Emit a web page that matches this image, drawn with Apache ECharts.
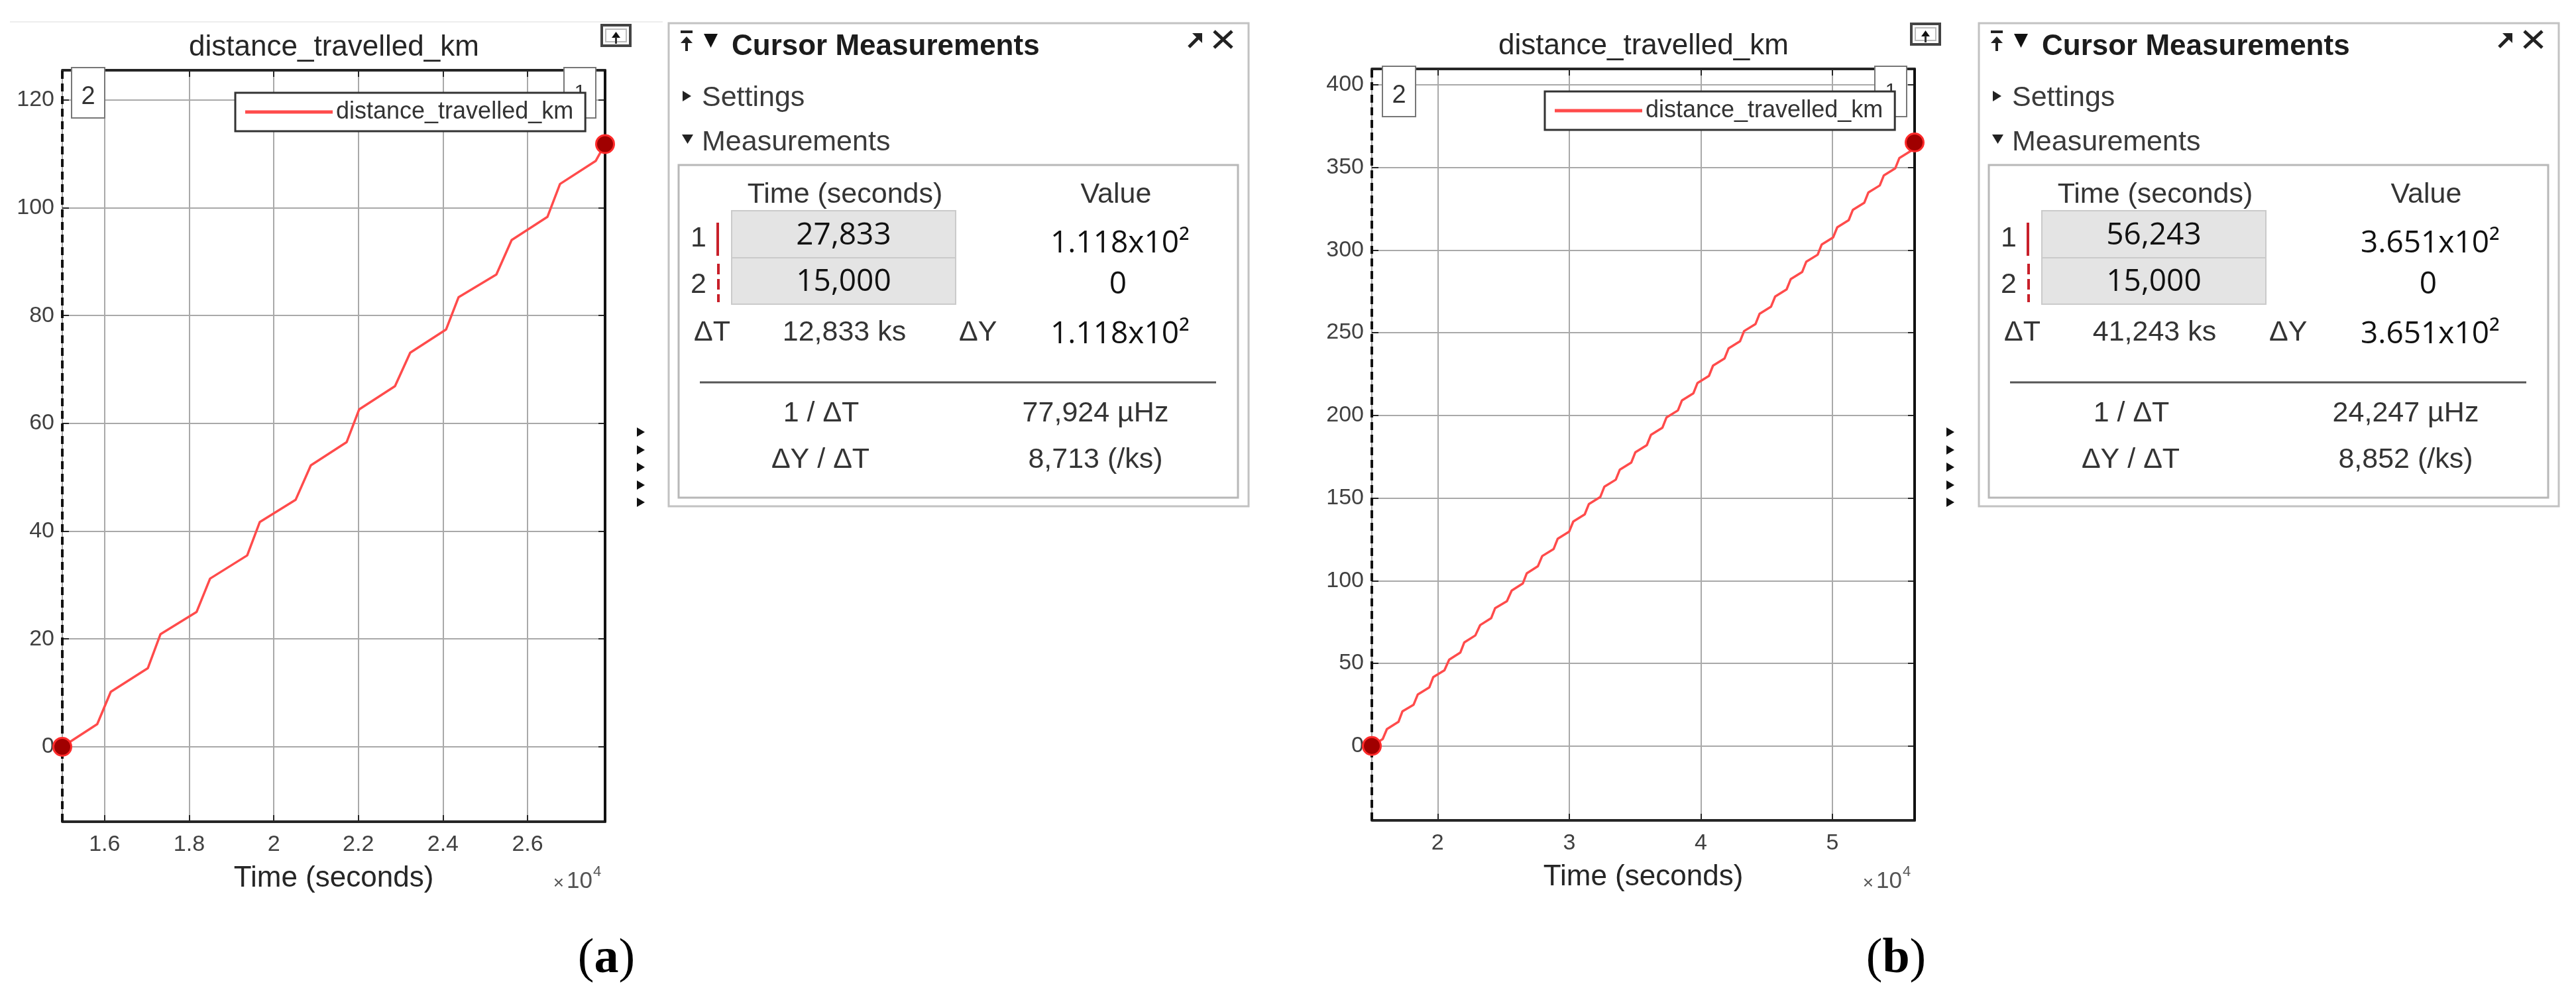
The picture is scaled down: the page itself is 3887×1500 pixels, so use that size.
<!DOCTYPE html>
<html><head><meta charset="utf-8">
<script src="https://cdn.jsdelivr.net/npm/echarts@6.0.0/dist/echarts.min.js"></script>
<style>html,body{margin:0;padding:0;background:#fff}#c{width:3887px;height:1500px}</style>
</head><body><div id="c"></div>
<script>
// ---------------- data ----------------
const seriesName = 'distance_travelled_km';
const axisTitle = 'Time (seconds)';

// (a) distance vs time
const timeA = [15000, 15826, 16146, 17024, 17322, 18174, 18494, 19372, 19670, 20516, 20876, 21722, 22020, 22866, 23226, 24073, 24370, 25263, 25624, 26470, 26768, 27614, 27833];
const distA = [0, 4.2, 10.2, 14.6, 20.9, 25.0, 31.2, 35.5, 41.7, 45.8, 52.2, 56.5, 62.6, 66.9, 73.1, 77.4, 83.4, 87.6, 94.0, 98.3, 104.4, 108.7, 111.8];

// (b) distance vs time
const timeB = [15000, 15826, 16146, 17024, 17322, 18174, 18494, 19372, 19670, 20516, 20876, 21722, 22020, 22866, 23226, 24073, 24370, 25263, 25624, 26470, 26768, 27614,
  27946, 28816, 29126, 29996, 30306, 31176, 31486, 32356, 32666, 33536, 33846, 34716, 35026, 35896, 36206, 37076, 37386, 38256, 38566, 39436,
  39746, 40616, 40926, 41796, 42106, 42976, 43286, 44156, 44466, 45336, 45646, 46516, 46826, 47696, 48006, 48876, 49186, 50056, 50366, 51236,
  51546, 52416, 52726, 53596, 53906, 54776, 55086, 55956, 56243];
const distB = [0, 4.2, 10.2, 14.6, 20.9, 25.0, 31.2, 35.5, 41.7, 45.8, 52.2, 56.5, 62.6, 66.9, 73.1, 77.4, 83.4, 87.6, 94.0, 98.3, 104.4, 108.7,
  114.9, 119.2, 125.4, 129.7, 135.8, 140.1, 146.3, 150.6, 156.8, 161.1, 167.2, 171.5, 177.7, 182.0, 188.2, 192.5, 198.7, 203.0, 209.1, 213.4,
  219.6, 223.9, 230.1, 234.4, 240.5, 244.8, 251.0, 255.3, 261.5, 265.8, 271.9, 276.2, 282.4, 286.7, 292.9, 297.2, 303.4, 307.7, 313.8, 318.1,
  324.3, 328.6, 334.8, 339.1, 345.2, 349.5, 355.7, 360.0, 365.1];

// cursors: [cursor 1, cursor 2]
const cursorTimeA = [27833, 15000];
const cursorValueA = [111.8, 0];
const cursorTimeB = [56243, 15000];
const cursorValueB = [365.1, 0];

// axis ranges
const xRangeA = [15000, 27833];
const yRangeA = [-13.9, 125.5];
const xRangeB = [15000, 56243];
const yRangeB = [-45, 409.6];

// tick labels
const xTickValA = [16000, 18000, 20000, 22000, 24000, 26000];
const xTickLabA = ['1.6', '1.8', '2', '2.2', '2.4', '2.6'];
const yTickValA = [0, 20, 40, 60, 80, 100, 120];
const yTickLabA = ['0', '20', '40', '60', '80', '100', '120'];
const xTickValB = [20000, 30000, 40000, 50000];
const xTickLabB = ['2', '3', '4', '5'];
const yTickValB = [0, 50, 100, 150, 200, 250, 300, 350, 400];
const yTickLabB = ['0', '50', '100', '150', '200', '250', '300', '350', '400'];
const xExponentBase = ['×', '10'];
const xExponentPow = '4';

// cursor measurement panel texts
const panelLabels = ['Cursor Measurements', 'Settings', 'Measurements', 'Time (seconds)', 'Value', 'ΔT', 'ΔY', '1 / ΔT', 'ΔY / ΔT'];
const panelA = ['27,833', '15,000', '1.118x10²', '0', '12,833 ks', '1.118x10²', '77,924 µHz', '8,713 (/ks)'];
const panelB = ['56,243', '15,000', '3.651x10²', '0', '41,243 ks', '3.651x10²', '24,247 µHz', '8,852 (/ks)'];
const panelTags = ['(a)', '(b)'];

// ---------------- helpers ----------------
const SANS = 'Liberation Sans, Arial, sans-serif';
const NUMF = 'Open Sans, Noto Sans, sans-serif';
const AX = '#262626';
const GRID = '#a9a9a9';

function labFmt(vals, labs) {
  return function (v) { const i = vals.indexOf(v); return i >= 0 ? labs[i] : ''; };
}
function xAxes(gi, range, split, vals, labs) {
  const tick = {show: true, inside: true, length: 10, lineStyle: {color: AX, width: 2}};
  return [{
    type: 'value', gridIndex: gi, min: range[0], max: range[1], splitNumber: split, position: 'bottom',
    axisLine: {show: true, onZero: false, lineStyle: {color: AX, width: 4}},
    axisTick: tick,
    axisLabel: {margin: 18, fontSize: 34, color: '#404040', fontFamily: SANS, formatter: labFmt(vals, labs)},
    splitLine: {show: true, lineStyle: {color: GRID, width: 2}},
    name: axisTitle, nameLocation: 'middle', nameGap: 64,
    nameTextStyle: {fontSize: 44, color: AX, fontFamily: SANS}
  }, {
    type: 'value', gridIndex: gi, min: range[0], max: range[1], splitNumber: split, position: 'top',
    axisLine: {show: true, onZero: false, lineStyle: {color: AX, width: 4}},
    axisTick: tick, axisLabel: {show: false}, splitLine: {show: false}
  }];
}
function yAxes(gi, range, split, vals, labs) {
  const tick = {show: true, inside: true, length: 10, lineStyle: {color: AX, width: 2}};
  return [{
    type: 'value', gridIndex: gi, min: range[0], max: range[1], splitNumber: split, position: 'left',
    axisLine: {show: false, onZero: false},
    axisTick: tick,
    axisLabel: {margin: 12, fontSize: 34, color: '#404040', fontFamily: SANS, formatter: labFmt(vals, labs)},
    splitLine: {show: true, lineStyle: {color: GRID, width: 2}}
  }, {
    type: 'value', gridIndex: gi, min: range[0], max: range[1], splitNumber: split, position: 'right',
    axisLine: {show: true, onZero: false, lineStyle: {color: '#111', width: 4}},
    axisTick: tick, axisLabel: {show: false}, splitLine: {show: false}
  }];
}
function lineSeries(xi, yi, ts, ds, cts) {
  return {
    type: 'line', name: seriesName, xAxisIndex: xi, yAxisIndex: yi,
    data: ts.map((t, i) => [t, ds[i]]), symbol: 'none', showSymbol: false,
    lineStyle: {color: '#ff4b4b', width: 3.5}, itemStyle: {color: '#ff4b4b'}, z: 3,
    markLine: {
      silent: true, symbol: ['none', 'none'], label: {show: false}, animation: false,
      data: [
        {xAxis: cts[0], lineStyle: {type: 'solid', color: '#111', width: 4}},
        {xAxis: cts[1], lineStyle: {type: [12, 7], color: '#111', width: 4}}
      ]
    }
  };
}
function cursorSeries(xi, yi, cts, cvs) {
  return {
    type: 'scatter', name: 'cursor', xAxisIndex: xi, yAxisIndex: yi, clip: false, z: 6,
    data: cts.map((t, i) => [t, cvs[i]]), symbolSize: 27,
    itemStyle: {color: '#a00000', borderColor: '#ff2b2b', borderWidth: 3, opacity: 1}
  };
}
function legendCfg(left, top) {
  return {
    data: [seriesName], left: left, top: top, orient: 'horizontal',
    padding: [11, 18, 11, 15], itemWidth: 132, itemHeight: 5, itemGap: 10, itemTextGap: 12,
    icon: 'rect', backgroundColor: '#fff', borderColor: '#333', borderWidth: 3, borderRadius: 0,
    textStyle: {fontSize: 36, color: '#333', fontFamily: SANS}, selectedMode: false, z: 6
  };
}
function txt(x, y, text, font, fill, align, extra) {
  return Object.assign({type: 'text', x: x, y: y, z: 10,
    style: {text: text, font: font, fill: fill, textAlign: align || 'left', textVerticalAlign: 'middle'}}, extra || {});
}
function panel(x0, vals) {
  const E = [];
  const A43 = '43px ' + SANS, N46 = '46px ' + NUMF, gray = '#343434';
  E.push({type: 'rect', z: 8, shape: {x: x0, y: 35, width: 875, height: 729}, style: {fill: '#fff', stroke: '#c2c2c2', lineWidth: 3}});
  // pin icon
  E.push({type: 'line', z: 10, shape: {x1: x0 + 18, y1: 48, x2: x0 + 36, y2: 48}, style: {stroke: '#222', lineWidth: 4}});
  E.push({type: 'polygon', z: 10, shape: {points: [[x0 + 18, 65], [x0 + 36, 65], [x0 + 27, 55]]}, style: {fill: '#222'}});
  E.push({type: 'line', z: 10, shape: {x1: x0 + 27, y1: 62, x2: x0 + 27, y2: 77}, style: {stroke: '#222', lineWidth: 4}});
  // collapse triangle
  E.push({type: 'polygon', z: 10, shape: {points: [[x0 + 53, 51], [x0 + 74, 51], [x0 + 63.5, 72]]}, style: {fill: '#111'}});
  E.push(txt(x0 + 95, 71, panelLabels[0], 'bold 44px ' + SANS, '#1c1c1c'));
  // undock arrow and close
  E.push({type: 'line', z: 10, shape: {x1: x0 + 785, y1: 71, x2: x0 + 800, y2: 56}, style: {stroke: '#222', lineWidth: 5}});
  E.push({type: 'polygon', z: 10, shape: {points: [[x0 + 790, 50], [x0 + 805, 50], [x0 + 805, 65]]}, style: {fill: '#222'}});
  E.push({type: 'line', z: 10, shape: {x1: x0 + 823, y1: 47, x2: x0 + 850, y2: 72}, style: {stroke: '#222', lineWidth: 5}});
  E.push({type: 'line', z: 10, shape: {x1: x0 + 850, y1: 47, x2: x0 + 823, y2: 72}, style: {stroke: '#222', lineWidth: 5}});
  // Settings / Measurements
  E.push({type: 'polygon', z: 10, shape: {points: [[x0 + 21, 137], [x0 + 21, 153], [x0 + 34, 145]]}, style: {fill: '#222'}});
  E.push(txt(x0 + 50, 148, panelLabels[1], A43, '#3a3a3a'));
  E.push({type: 'polygon', z: 10, shape: {points: [[x0 + 20, 203], [x0 + 37, 203], [x0 + 28.5, 217]]}, style: {fill: '#222'}});
  E.push(txt(x0 + 50, 215, panelLabels[2], A43, '#3a3a3a'));
  // inner box
  E.push({type: 'rect', z: 9, shape: {x: x0 + 15, y: 249, width: 844, height: 502}, style: {fill: '#fff', stroke: '#b8b8b8', lineWidth: 3}});
  E.push(txt(x0 + 266, 294, panelLabels[3], A43, gray, 'center'));
  E.push(txt(x0 + 675, 294, panelLabels[4], A43, gray, 'center'));
  // cells
  E.push({type: 'rect', z: 9, shape: {x: x0 + 95, y: 318, width: 338, height: 71}, style: {fill: '#e4e4e4', stroke: '#cacaca', lineWidth: 2}});
  E.push({type: 'rect', z: 9, shape: {x: x0 + 95, y: 389, width: 338, height: 70}, style: {fill: '#e4e4e4', stroke: '#cacaca', lineWidth: 2}});
  E.push(txt(x0 + 45, 360, '1', A43, gray, 'center'));
  E.push(txt(x0 + 45, 430, '2', A43, gray, 'center'));
  E.push({type: 'rect', z: 10, shape: {x: x0 + 72, y: 336, width: 4, height: 50}, style: {fill: '#c8202a'}});
  E.push({type: 'line', z: 10, shape: {x1: x0 + 75, y1: 398, x2: x0 + 75, y2: 456}, style: {stroke: '#c8202a', lineWidth: 4, lineDash: [16, 7]}});
  E.push(txt(x0 + 264, 356, vals[0], N46, '#111', 'center'));
  E.push(txt(x0 + 264, 426, vals[1], N46, '#111', 'center'));
  E.push(txt(x0 + 681, 368, vals[2], N46, '#111', 'center'));
  E.push(txt(x0 + 678, 430, vals[3], N46, '#111', 'center'));
  E.push(txt(x0 + 38, 502, panelLabels[5], A43, gray));
  E.push(txt(x0 + 265, 502, vals[4], A43, gray, 'center'));
  E.push(txt(x0 + 438, 502, panelLabels[6], A43, gray));
  E.push(txt(x0 + 681, 505, vals[5], N46, '#111', 'center'));
  E.push({type: 'line', z: 10, shape: {x1: x0 + 47, y1: 577, x2: x0 + 826, y2: 577}, style: {stroke: '#555', lineWidth: 3}});
  E.push(txt(x0 + 230, 624, panelLabels[7], A43, gray, 'center'));
  E.push(txt(x0 + 644, 624, vals[6], A43, gray, 'center'));
  E.push(txt(x0 + 229, 694, panelLabels[8], A43, gray, 'center'));
  E.push(txt(x0 + 644, 694, vals[7], A43, gray, 'center'));
  return E;
}
function chartDecor(px, pr, shiftTop, box2x, box1x) {
  const E = [];
  // cursor label boxes
  E.push({type: 'rect', z: 3, shape: {x: box2x, y: 102 - shiftTop, width: 50, height: 76}, style: {fill: '#fff', stroke: '#777', lineWidth: 2}});
  E.push(txt(box2x + 25, 147 - shiftTop, '2', '38px ' + SANS, '#333', 'center', {z: 4}));
  E.push({type: 'rect', z: 3, shape: {x: box1x, y: 102 - shiftTop, width: 48, height: 76}, style: {fill: '#fff', stroke: '#777', lineWidth: 2}});
  E.push(txt(box1x + 24, 140 - shiftTop, '1', '30px ' + SANS, '#333', 'center', {z: 4}));
  // top-right button
  E.push({type: 'rect', z: 3, shape: {x: pr - 5, y: 38 - shiftTop, width: 43, height: 31}, style: {fill: '#fff', stroke: '#444', lineWidth: 4}});
  E.push({type: 'rect', z: 3, shape: {x: pr + 1, y: 44 - shiftTop, width: 31, height: 19}, style: {fill: '#fff', stroke: '#bbb', lineWidth: 2}});
  E.push({type: 'polygon', z: 4, shape: {points: [[pr + 10, 57 - shiftTop], [pr + 23, 57 - shiftTop], [pr + 16.5, 48 - shiftTop]]}, style: {fill: '#111'}});
  E.push({type: 'line', z: 4, shape: {x1: pr + 16.5, y1: 56 - shiftTop, x2: pr + 16.5, y2: 66 - shiftTop}, style: {stroke: '#333', lineWidth: 3}});
  // side triangles
  [652, 679, 705, 732, 758].forEach(function (yy) {
    E.push({type: 'polygon', z: 3, shape: {points: [[pr + 48, yy - 7], [pr + 48, yy + 7], [pr + 60, yy]]}, style: {fill: '#111'}});
  });
  // exponent  x10^4
  E.push(txt(pr - 62, 1333, xExponentBase[0], '28px ' + SANS, '#555', 'right'));
  E.push(txt(pr - 19, 1330, xExponentBase[1], '35px ' + SANS, '#555', 'right'));
  E.push(txt(pr - 18, 1316, xExponentPow, '22px ' + SANS, '#555', 'left'));
  return E;
}
function tag(x, s) {
  const inner = s.slice(1, -1);
  return {type: 'text', x: x, y: 1448, z: 10, style: {
    text: '{p|(}{b|' + inner + '}{p|)}', textAlign: 'center', textVerticalAlign: 'middle',
    rich: {p: {font: '74px Liberation Serif, serif', fill: '#000'}, b: {font: 'bold 74px Liberation Serif, serif', fill: '#000'}}
  }};
}

// ---------------- chart ----------------
const chart = echarts.init(document.getElementById('c'), null, {renderer: 'canvas', width: 3887, height: 1500});
const graphics = [].concat(
  [{type: 'line', z: 1, shape: {x1: 15, y1: 33, x2: 1000, y2: 33}, style: {stroke: '#ededed', lineWidth: 2}}],
  chartDecor(94, 913, 0, 108, 851),
  chartDecor(2070, 2889, 2, 2086, 2829),
  panel(1009, panelA),
  panel(2986, panelB),
  [tag(915, panelTags[0]), tag(2861, panelTags[1])]
);
const option = {
  animation: false,
  backgroundColor: '#fff',
  title: [
    {text: seriesName, left: 504, top: 50, textAlign: 'center', padding: 0, textStyle: {fontSize: 44, fontWeight: 'normal', color: AX, fontFamily: SANS}},
    {text: seriesName, left: 2480, top: 48, textAlign: 'center', padding: 0, textStyle: {fontSize: 44, fontWeight: 'normal', color: AX, fontFamily: SANS}}
  ],
  legend: [legendCfg(355, 140), legendCfg(2331, 138)],
  grid: [
    {left: 94, top: 106, width: 819, height: 1134, containLabel: false},
    {left: 2070, top: 104, width: 819, height: 1134, containLabel: false}
  ],
  xAxis: [].concat(xAxes(0, xRangeA, 6, xTickValA, xTickLabA), xAxes(1, xRangeB, 4, xTickValB, xTickLabB)),
  yAxis: [].concat(yAxes(0, yRangeA, 7, yTickValA, yTickLabA), yAxes(1, yRangeB, 9, yTickValB, yTickLabB)),
  series: [
    lineSeries(0, 0, timeA, distA, cursorTimeA),
    cursorSeries(0, 0, cursorTimeA, cursorValueA),
    lineSeries(2, 2, timeB, distB, cursorTimeB),
    cursorSeries(2, 2, cursorTimeB, cursorValueB)
  ],
  graphic: {elements: graphics}
};
chart.setOption(option);
</script>
</body></html>
